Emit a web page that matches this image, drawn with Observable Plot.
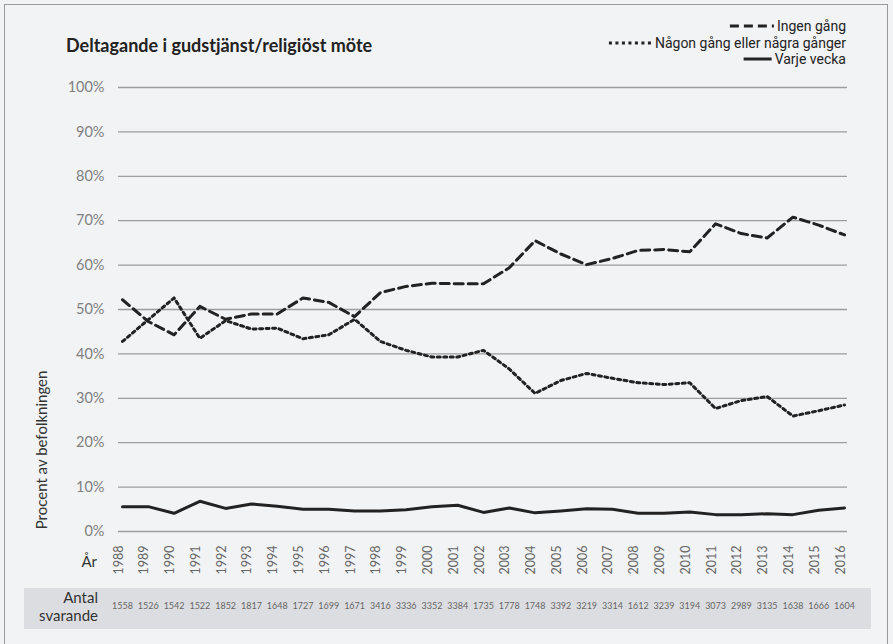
<!DOCTYPE html>
<html><head><meta charset="utf-8">
<script src="https://cdn.jsdelivr.net/npm/d3@7"></script>
<script src="https://cdn.jsdelivr.net/npm/@observablehq/plot@0.6"></script>
<style>
html,body{margin:0;padding:0;background:#f2f3f5;}
#wrap{position:relative;width:893px;height:644px;overflow:hidden;background:#f2f3f5;}
#border{position:absolute;left:4px;top:4px;width:884px;height:700px;border:1.5px solid #9a9a9a;box-sizing:border-box;}
#band{position:absolute;left:24px;top:588px;width:847px;height:41px;background:#dcdde0;}
#wrap svg{position:absolute;left:0;top:0;}
</style></head>
<body><div id="wrap"><div id="border"></div><div id="band"></div></div>
<script>
const years = [1988,1989,1990,1991,1992,1993,1994,1995,1996,1997,1998,1999,2000,2001,2002,2003,2004,2005,2006,2007,2008,2009,2010,2011,2012,2013,2014,2015,2016];
const ingenGang = [52.2,47.3,44.3,50.7,47.8,49,49,52.6,51.6,48.4,53.8,55.2,55.9,55.8,55.8,59.4,65.5,62.5,60.1,61.5,63.3,63.5,63,69.3,67.1,66.1,70.8,69,66.8];
const nagonGang = [42.8,47.7,52.6,43.5,47.5,45.6,45.8,43.4,44.3,47.8,42.8,40.8,39.3,39.3,40.8,36.6,31.1,34,35.6,34.5,33.5,33.1,33.5,27.7,29.5,30.4,26,27.2,28.5];
const varjeVecka = [5.6,5.6,4.1,6.8,5.2,6.2,5.7,5.0,5.0,4.6,4.6,4.9,5.6,5.9,4.3,5.3,4.2,4.6,5.1,5.0,4.1,4.1,4.4,3.8,3.8,4.0,3.8,4.8,5.3];
const antalSvarande = [1558,1526,1542,1522,1852,1817,1648,1727,1699,1671,3416,3336,3352,3384,1735,1778,1748,3392,3219,3314,1612,3239,3194,3073,2989,3135,1638,1666,1604];
const yTicks = [0,10,20,30,40,50,60,70,80,90,100];
const seriesNames = ["Ingen gång","Någon gång eller några gånger","Varje vecka"];

const rows = years.map((year,i)=>({year, ingen:ingenGang[i], nagon:nagonGang[i], varje:varjeVecka[i], n:antalSvarande[i]}));

const lineStyles = {
  "Ingen gång": {dash:"9,5", len:44},
  "Någon gång eller några gånger": {dash:"3,3.5", len:43},
  "Varje vecka": {dash:null, len:28}
};

const chart = Plot.plot({
  width: 893, height: 644,
  marginLeft: 118, marginRight: 46, marginTop: 87, marginBottom: 113,
  style: {background: "transparent", fontFamily: "Lato, sans-serif", color: "#777"},
  x: {domain: [1988, 2016], insetLeft: 4, insetRight: 3, axis: null},
  y: {domain: [0, 100], axis: null},
  marks: [
    Plot.ruleY(yTicks, {stroke: "#9d9d9d", strokeWidth: 1.3}),
    Plot.axisY(yTicks, {tickSize: 0, tickPadding: 14, tickFormat: d => d + "%", fontSize: 14.5, fill: "#808080", label: null}),
    Plot.text(rows, {x: "year", text: d => String(d.year), frameAnchor: "bottom", dy: 14, rotate: -90, textAnchor: "end", fontSize: 12.5, fill: "#666"}),
    Plot.text(rows, {x: "year", text: d => String(d.n), frameAnchor: "bottom", dy: 77, fontSize: 9, fill: "#666"}),
    Plot.line(rows, {x: "year", y: "varje", stroke: "#222", strokeWidth: 3}),
    Plot.line(rows, {x: "year", y: "nagon", stroke: "#222", strokeWidth: 3, strokeDasharray: "3,3.5"}),
    Plot.line(rows, {x: "year", y: "ingen", stroke: "#222", strokeWidth: 3, strokeDasharray: "9,5"})
  ]
});
document.getElementById("wrap").appendChild(chart);

const svg = d3.select(chart);
const addText = (x, y, str, opts) => {
  const t = svg.append("text").attr("x", x).attr("y", y).attr("dy", "0.35em")
    .attr("text-anchor", opts.anchor || "start")
    .attr("font-family", opts.family || "Lato, sans-serif")
    .attr("font-size", opts.size || 14)
    .attr("fill", opts.fill || "#333")
    .text(str);
  if (opts.weight) t.attr("font-weight", opts.weight);
  return t;
};
// Title
addText(66, 46, "Deltagande i gudstjänst/religiöst möte", {weight: "bold", size: 18, fill: "#222"});
// Y label
svg.append("text").attr("transform", "translate(42,450) rotate(-90)").attr("text-anchor", "middle").attr("dy", "0.35em")
  .attr("font-family", "Lato, sans-serif").attr("font-size", 15).attr("fill", "#333")
  .text("Procent av befolkningen");
// År
addText(97, 562, "År", {anchor: "end", size: 15});
// Antal svarande
addText(98, 598, "Antal", {anchor: "end", size: 15});
addText(98, 616, "svarande", {anchor: "end", size: 15});
// Legend
const legY = [26, 43, 59];
seriesNames.forEach((name, i) => {
  const t = addText(846, legY[i], name, {anchor: "end", family: "Roboto, sans-serif", size: 14, fill: "#222"});
  const w = t.node().getComputedTextLength();
  const st = lineStyles[name];
  const x2 = 846 - w - 3;
  const ln = svg.append("line").attr("x1", x2 - st.len).attr("x2", x2).attr("y1", legY[i]).attr("y2", legY[i])
    .attr("stroke", "#222").attr("stroke-width", 3);
  if (st.dash) ln.attr("stroke-dasharray", st.dash);
});
</script>
</body></html>
